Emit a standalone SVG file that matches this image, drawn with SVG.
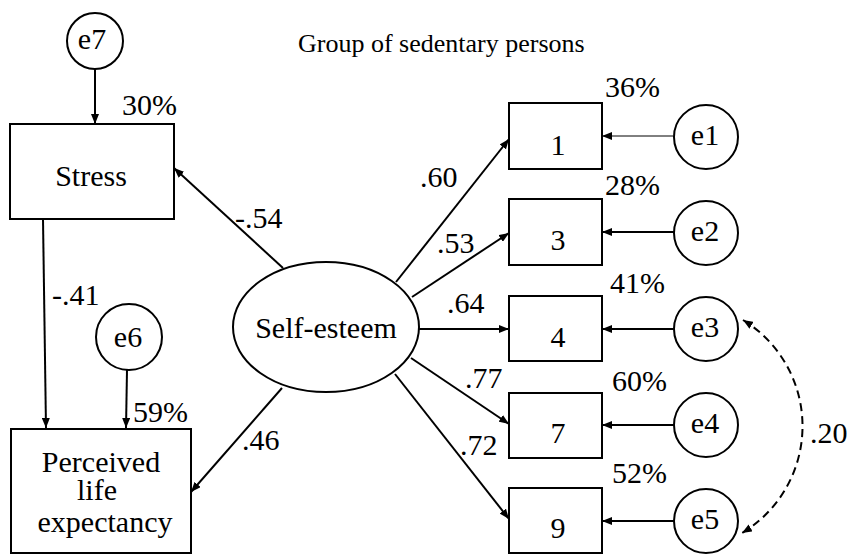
<svg xmlns="http://www.w3.org/2000/svg" width="848" height="554" viewBox="0 0 848 554" font-family="'Liberation Serif', 'Times New Roman', 'DejaVu Serif', serif">
<defs>
<marker id="ah" viewBox="0 0 10 8" refX="10" refY="4" markerWidth="10" markerHeight="8" markerUnits="userSpaceOnUse" orient="auto-start-reverse">
<path d="M0,0 L10,4 L0,8 z" fill="#000"/>
</marker>
<style>
text{font-family:'Liberation Serif','Times New Roman','DejaVu Serif',serif;font-size:30px;fill:#000}
.n{fill:#fff;stroke:#000;stroke-width:2}
.c{stroke:#000;stroke-width:2;fill:none;marker-end:url(#ah)}
.m{text-anchor:middle}
</style>
</defs>
<rect width="848" height="554" fill="#fff"/>
<text x="298" y="52" style="font-size:26px">Group of sedentary persons</text>
<g id="connectors">
<line class="c" x1="95" y1="69" x2="95" y2="124"/>
<line class="c" x1="43" y1="219" x2="46" y2="428"/>
<line class="c" x1="127" y1="370" x2="126" y2="428"/>
<line class="c" x1="283" y1="268" x2="174" y2="168"/>
<line class="c" x1="282" y1="388" x2="191" y2="492"/>
<line class="c" x1="396" y1="282" x2="509" y2="139"/>
<line class="c" x1="412" y1="297" x2="509" y2="233"/>
<line class="c" x1="419" y1="329" x2="509" y2="329"/>
<line class="c" x1="411" y1="358" x2="509" y2="424"/>
<line class="c" x1="395" y1="374" x2="509" y2="519"/>
<line class="c" style="stroke-width:1" x1="673" y1="136" x2="602" y2="136"/>
<line class="c" x1="674" y1="232" x2="602" y2="232"/>
<line class="c" x1="674" y1="329" x2="602" y2="329"/>
<line class="c" x1="674" y1="425" x2="602" y2="425"/>
<line class="c" x1="674" y1="521" x2="602" y2="521"/>
<path class="c" style="stroke-dasharray:8,5;marker-start:url(#ah)" d="M743,320 A124.5,124.5 0 0 1 742,533"/>
<text x="52" y="305">-.41</text>
<text x="235" y="228">-.54</text>
<text x="242" y="450">.46</text>
<text x="420" y="187">.60</text>
<text x="437" y="253">.53</text>
<text x="447" y="313">.64</text>
<text x="465" y="388">.77</text>
<text x="460" y="455">.72</text>
<text x="810" y="443">.20</text>
</g>
<g id="e7"><circle class="n" cx="95" cy="41" r="28"/><text class="m" x="92" y="49">e7</text></g>
<g id="stress"><rect class="n" x="10" y="124" width="164" height="95"/><text class="m" x="91" y="186">Stress</text><text x="122" y="115">30%</text></g>
<g id="e6"><circle class="n" cx="129" cy="337" r="33"/><text class="m" x="128" y="347">e6</text></g>
<g id="ple"><rect class="n" x="11" y="429" width="180" height="124"/><text class="m" x="101" y="472">Perceived</text><text class="m" x="97" y="500">life</text><text class="m" x="105" y="532">expectancy</text><text x="133" y="422">59%</text></g>
<g id="selfesteem"><ellipse class="n" cx="326" cy="327" rx="93" ry="65"/><text class="m" x="326" y="338">Self-esteem</text></g>
<g id="v1"><rect class="n" x="509" y="103" width="93" height="66"/><text class="m" x="558" y="155">1</text><text x="605" y="97">36%</text></g>
<g id="v3"><rect class="n" x="509" y="199" width="93" height="66"/><text class="m" x="558" y="250">3</text><text x="605" y="195">28%</text></g>
<g id="v4"><rect class="n" x="509" y="296" width="93" height="65"/><text class="m" x="558" y="347">4</text><text x="610" y="293">41%</text></g>
<g id="v7"><rect class="n" x="509" y="393" width="93" height="65"/><text class="m" x="558" y="443">7</text><text x="612" y="391">60%</text></g>
<g id="v9"><rect class="n" x="509" y="488" width="93" height="65"/><text class="m" x="558" y="538">9</text><text x="612" y="483">52%</text></g>
<g id="e1"><circle class="n" cx="706" cy="137" r="32"/><text class="m" x="705" y="145">e1</text></g>
<g id="e2"><circle class="n" cx="706" cy="233" r="32"/><text class="m" x="705" y="241">e2</text></g>
<g id="e3"><circle class="n" cx="706" cy="329" r="32"/><text class="m" x="705" y="337">e3</text></g>
<g id="e4"><circle class="n" cx="706" cy="425" r="32"/><text class="m" x="705" y="433">e4</text></g>
<g id="e5"><circle class="n" cx="706" cy="521" r="32"/><text class="m" x="705" y="529">e5</text></g>
</svg>
